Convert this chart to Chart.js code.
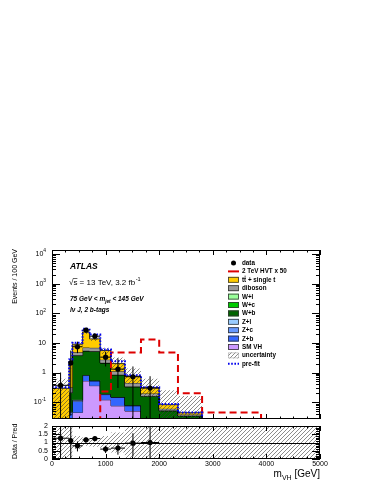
<!DOCTYPE html>
<html><head><meta charset="utf-8">
<script src="https://cdn.jsdelivr.net/npm/chart.js@4/dist/chart.umd.min.js"></script>
<style>
html,body{margin:0;padding:0;background:#fff;}
#wrap{position:relative;width:374px;height:484px;}
canvas{position:absolute;left:0;top:0;}
</style>
</head><body>
<div id="wrap"><canvas id="main" width="374" height="484"></canvas><canvas id="ratio" width="374" height="484"></canvas></div>
<script>
// ---------------- data ----------------
const binEdges = [0,320,380,570,700,900,1100,1360,1660,2000,2350,2800,3900,5000];
const smVH    = [0.002,0.01,0.045,0.52,0.36,0.12,0.075,0.05,0.01,0.003,0.001,0.0005,0.0002];
const zPlusB  = [0.002,0.03,0.06,0.27,0.16,0.06,0.07,0.025,0.006,0.002,0.001,0.0005,0.0002];
const zPlusC  = [0.0005,0.005,0.01,0.02,0.01,0.005,0.003,0.002,0.001,0.0005,0.0002,0.0001,0.0001];
const zPlusL  = [0.0005,0.002,0.005,0.01,0.008,0.003,0.002,0.001,0.0005,0.0002,0.0001,0.0001,0.0001];
const wPlusB  = [0.01,0.15,3.6,4.5,4.6,1.9,0.68,0.25,0.14,0.045,0.032,0.012,0.005];
const wPlusC  = [0.002,0.01,0.05,0.08,0.06,0.02,0.01,0.005,0.002,0.001,0.0005,0.0002,0.0001];
const wPlusL  = [0.001,0.005,0.02,0.04,0.03,0.01,0.005,0.002,0.001,0.0005,0.0002,0.0001,0.0001];
const diboson = [0.005,0.1,1.0,1.5,1.6,0.6,0.25,0.11,0.035,0.008,0.003,0.002,0.001];
const ttbar   = [0.27,1.6,4.2,16.5,6.8,2.8,0.9,0.31,0.11,0.022,0.006,0.003,0.001];

const uncHigh = [0.61,2.5,10.5,27,15.5,6.8,3.2,1.36,0.61,0.25,0.16,0.02,0.01];
const uncLow  = [0.02,1.4,7.7,20,11.5,4.2,1.2,0.41,0.15,0.026,0.012,0.004,0.002];

const hvtSignal = [0.001,0.001,0.001,0.001,0.001,0.23,4.7,4.7,13,4.7,0.2,0.045,0.001];
const preFit    = [0.32,2.75,10.1,30,19,6.0,2.4,0.81,0.32,0.087,0.045,0.02,0.012];

const dataBins    = [0,1,2,3,4,5,6,7,8];
const dataCenters = [160,350,475,635,800,1000,1230,1510,1830];
const dataValues  = [0.37,2.1,7.4,27,16.8,3.3,1.3,0.72,0.30];
const dataErrHigh = [1.0,5.5,11,32,21,5.0,3.0,1.6,0.75];
const dataErrLow  = [0.02,0.035,4.5,22,13,1.6,0.3,0.02,0.02];

const ratioValues   = [1.26,1.12,0.80,1.16,1.24,0.60,0.66,0.96,1.0];
const ratioErrHigh  = [2.5,2.5,1.06,1.32,1.36,0.80,0.96,1.56,2.5];
const ratioErrLow   = [0,0,0.46,1.0,1.12,0.36,0.26,0.16,0];
const ratioBandHigh = [2,2,1.4,1.2,1.25,1.4,1.6,2,2,2,2,2,2];
const ratioBandLow  = [0,0,0.6,0.8,0.75,0.6,0.4,0,0,0,0,0,0];

const xTickLabels = ['0','1000','2000','3000','4000','5000'];
const ratioTickLabels = ['0','0.5','1','1.5','2'];

const Y_MIN = 0.027, Y_MAX = 13600;
const FONT = '"Liberation Sans", Arial, Helvetica, sans-serif';

// ---------------- helpers ----------------
function histPoints(vals, clampMin){
  const pts = [];
  for (let i = 0; i < vals.length; i++) {
    const v = clampMin !== undefined ? Math.max(vals[i], clampMin) : vals[i];
    pts.push({x: binEdges[i], y: v});
  }
  const last = clampMin !== undefined ? Math.max(vals[vals.length-1], clampMin) : vals[vals.length-1];
  pts.push({x: binEdges[binEdges.length-1], y: last});
  return pts;
}
function makeHatch(ctx){
  const c = document.createElement('canvas'); c.width = 4; c.height = 4;
  const g = c.getContext('2d');
  g.strokeStyle = 'rgba(60,60,60,0.85)'; g.lineWidth = 0.7;
  g.beginPath();
  g.moveTo(0,4); g.lineTo(4,0);
  g.moveTo(-1,1); g.lineTo(1,-1);
  g.moveTo(3,5); g.lineTo(5,3);
  g.stroke();
  return ctx.createPattern(c, 'repeat');
}

const mainCtx = document.getElementById('main').getContext('2d');
const ratioCtx = document.getElementById('ratio').getContext('2d');
const hatchMain = makeHatch(mainCtx);
const hatchRatio = makeHatch(ratioCtx);

// stacked cumulative (bottom to top)
const stackDefs = [
  {label:'SM VH', vals: smVH,   color:'#CC99FF'},
  {label:'Z+b',   vals: zPlusB, color:'#3366FF'},
  {label:'Z+c',   vals: zPlusC, color:'#6699FF'},
  {label:'Z+l',   vals: zPlusL, color:'#99CCFF'},
  {label:'W+b',   vals: wPlusB, color:'#006600'},
  {label:'W+c',   vals: wPlusC, color:'#00CC00'},
  {label:'W+l',   vals: wPlusL, color:'#99FF99'},
  {label:'diboson', vals: diboson, color:'#999999'},
  {label:'ttbar', vals: ttbar,  color:'#FFCC00'}
];
const cum = new Array(binEdges.length-1).fill(0);
const datasets = [];
stackDefs.forEach((s, idx) => {
  const level = s.vals.map((v,i) => (cum[i] += v));
  datasets.push({
    label: s.label, data: histPoints(level), stepped: true,
    borderColor: '#000', borderWidth: 0.8, backgroundColor: s.color,
    fill: idx === 0 ? 'start' : '-1', pointRadius: 0, order: 20 - idx
  });
});
// uncertainty band
datasets.push({label:'uncLow', data: histPoints(uncLow), stepped:true, borderWidth:0, borderColor:'rgba(0,0,0,0)', fill:false, pointRadius:0, order:5});
datasets.push({label:'uncHigh', data: histPoints(uncHigh), stepped:true, borderWidth:0, borderColor:'rgba(0,0,0,0)', backgroundColor: hatchMain, fill:'-1', pointRadius:0, order:4});
// signal
datasets.push({label:'HVT', data: histPoints(hvtSignal, Y_MIN), stepped:true, borderColor:'#DD0000', borderWidth:2, borderDash:[7,4], fill:false, pointRadius:0, order:3});
// pre-fit
datasets.push({label:'prefit', data: histPoints(preFit, Y_MIN), stepped:true, borderColor:'#0000EE', borderWidth:2, borderDash:[1.6,1.6], fill:false, pointRadius:0, order:2});
// data
datasets.push({label:'data', data: dataCenters.map((c,i)=>({x:c, y:dataValues[i]})), showLine:false, pointRadius:2.6, pointBackgroundColor:'#000', pointBorderColor:'#000', pointBorderWidth:0, order:1});

// ---------------- drawing helpers ----------------
function drawSupLabel(ctx, base, sup, xRight, y, size){
  ctx.font = `${size}px ${FONT}`;
  const wb = ctx.measureText(base).width;
  ctx.font = `${size*0.7}px ${FONT}`;
  const ws = sup ? ctx.measureText(sup).width : 0;
  const x0 = xRight - wb - ws;
  ctx.textAlign = 'left'; ctx.textBaseline = 'middle'; ctx.fillStyle = '#000';
  ctx.font = `${size}px ${FONT}`; ctx.fillText(base, x0, y);
  if (sup) { ctx.font = `${size*0.7}px ${FONT}`; ctx.fillText(sup, x0 + wb, y - size*0.42); }
}
function hline(ctx,x1,x2,y){ctx.beginPath();ctx.moveTo(x1,y);ctx.lineTo(x2,y);ctx.stroke();}
function vline(ctx,x,y1,y2){ctx.beginPath();ctx.moveTo(x,y1);ctx.lineTo(x,y2);ctx.stroke();}

function drawXTicks(ctx, xs, top, bottom, major, minor){
  ctx.strokeStyle = '#000'; ctx.lineWidth = 1;
  for (let v = 0; v <= 5000; v += 250) {
    const px = Math.round(xs.getPixelForValue(v)) + 0.5;
    const len = (v % 1000 === 0) ? major : minor;
    vline(ctx, px, bottom, bottom - len);
    vline(ctx, px, top, top + len);
  }
}

const mainDecor = {
  id: 'mainDecor',
  afterDatasetsDraw(chart){
    const {ctx, chartArea:{left,right,top,bottom}, scales:{x,y}} = chart;
    ctx.save();
    ctx.beginPath(); ctx.rect(left, top, right-left, bottom-top); ctx.clip();
    ctx.strokeStyle = '#000'; ctx.lineWidth = 1;
    dataBins.forEach((b,i) => {
      const cx = x.getPixelForValue(dataCenters[i]);
      const cy = y.getPixelForValue(dataValues[i]);
      hline(ctx, x.getPixelForValue(binEdges[b]), x.getPixelForValue(binEdges[b+1]), cy);
      vline(ctx, cx, y.getPixelForValue(dataErrHigh[i]), y.getPixelForValue(Math.max(dataErrLow[i], 1e-4)));
    });
    ctx.restore();
  },
  afterDraw(chart){
    const {ctx, chartArea:{left,right,top,bottom}, scales:{x,y}} = chart;
    ctx.save();
    // frame
    ctx.strokeStyle = '#000'; ctx.lineWidth = 1;
    ctx.strokeRect(left+0.5, top+0.5, right-left-1, bottom-top-1);
    // y ticks (log)
    for (let k = -2; k <= 4; k++) {
      for (let m = 1; m <= 9; m++) {
        const v = m * Math.pow(10, k);
        if (v < Y_MIN || v > Y_MAX) continue;
        const py = Math.round(y.getPixelForValue(v)) + 0.5;
        const len = m === 1 ? 8 : 4;
        hline(ctx, left, left + len, py);
        hline(ctx, right, right - len, py);
      }
    }
    drawXTicks(ctx, x, top, bottom, 5, 2.5);
    // y labels
    for (let k = -1; k <= 4; k++) {
      const py = y.getPixelForValue(Math.pow(10,k));
      if (k === 0) drawSupLabel(ctx, '1', '', 46, py, 7);
      else if (k === 1) drawSupLabel(ctx, '10', '', 46, py, 7);
      else drawSupLabel(ctx, '10', String(k), 46, py, 7);
    }
    // y title
    ctx.save();
    ctx.translate(15, top - 1); ctx.rotate(-Math.PI/2);
    ctx.font = `7px ${FONT}`; ctx.textAlign = 'right'; ctx.textBaseline = 'middle'; ctx.fillStyle = '#000';
    ctx.fillText('Events / 100 GeV', 0, 0);
    ctx.restore();
    // ATLAS labels
    ctx.fillStyle = '#000'; ctx.textAlign = 'left'; ctx.textBaseline = 'alphabetic';
    ctx.font = `italic bold 8.5px ${FONT}`;
    ctx.fillText('ATLAS', 70, 269);
    ctx.font = `8px ${FONT}`;
    ctx.fillText('\u221As = 13 TeV, 3.2 fb', 69, 285);
    let w = ctx.measureText('\u221As = 13 TeV, 3.2 fb').width;
    const wr = ctx.measureText('\u221A').width, ws = ctx.measureText('s').width;
    ctx.lineWidth = 0.6; hline(ctx, 69 + wr - 0.5, 69 + wr + ws, 278.5);
    ctx.font = `5.6px ${FONT}`; ctx.fillText('-1', 69 + w + 0.5, 281);
    ctx.font = `italic bold 6.5px ${FONT}`;
    ctx.fillText('75 GeV < m', 70, 301);
    w = ctx.measureText('75 GeV < m').width;
    ctx.font = `italic bold 4.6px ${FONT}`; ctx.fillText('jet', 70 + w, 303);
    const wj = ctx.measureText('jet').width;
    ctx.font = `italic bold 6.5px ${FONT}`; ctx.fillText(' < 145 GeV', 70 + w + wj, 301);
    ctx.fillText('l\u03BD J, 2 b-tags', 70, 312);
    // legend
    const lx = 228, lw = 11, tx = 242, y0 = 263, dy = 8.4;
    const entries = [
      {t:'data', type:'dot'},
      {t:'2 TeV HVT x 50', type:'line', c:'#DD0000'},
      {t:'tt + single t', type:'box', c:'#FFCC00', bar:true},
      {t:'diboson', type:'box', c:'#999999'},
      {t:'W+l', type:'box', c:'#99FF99'},
      {t:'W+c', type:'box', c:'#00CC00'},
      {t:'W+b', type:'box', c:'#006600'},
      {t:'Z+l', type:'box', c:'#99CCFF'},
      {t:'Z+c', type:'box', c:'#6699FF'},
      {t:'Z+b', type:'box', c:'#3366FF'},
      {t:'SM VH', type:'box', c:'#CC99FF'},
      {t:'uncertainty', type:'hatch'},
      {t:'pre-fit', type:'dots'}
    ];
    entries.forEach((e, i) => {
      const cy = y0 + i * dy;
      ctx.save();
      if (e.type === 'dot') {
        ctx.fillStyle = '#000'; ctx.beginPath(); ctx.arc(lx + lw/2, cy, 2.5, 0, Math.PI*2); ctx.fill();
      } else if (e.type === 'line') {
        ctx.strokeStyle = e.c; ctx.lineWidth = 2; hline(ctx, lx, lx + lw, cy);
      } else if (e.type === 'box') {
        ctx.fillStyle = e.c; ctx.fillRect(lx, cy - 3, lw, 6);
        ctx.strokeStyle = '#333'; ctx.lineWidth = 0.8; ctx.strokeRect(lx + 0.5, cy - 2.5, lw - 1, 5);
      } else if (e.type === 'hatch') {
        ctx.fillStyle = hatchMain; ctx.fillRect(lx, cy - 3, lw, 6);
        ctx.strokeStyle = '#aaa'; ctx.lineWidth = 0.6; ctx.strokeRect(lx + 0.5, cy - 2.5, lw - 1, 5);
      } else if (e.type === 'dots') {
        ctx.strokeStyle = '#0000EE'; ctx.lineWidth = 2; ctx.setLineDash([1.6,1.6]); hline(ctx, lx, lx + lw, cy);
      }
      ctx.restore();
      ctx.fillStyle = '#000'; ctx.font = `bold 6.3px ${FONT}`; ctx.textAlign = 'left'; ctx.textBaseline = 'middle';
      ctx.fillText(e.t, tx, cy + 0.3);
      if (e.bar) {
        const wt = ctx.measureText('t').width;
        ctx.strokeStyle = '#000'; ctx.lineWidth = 0.6; hline(ctx, tx + wt + 0.3, tx + 2*wt - 0.2, cy - 3.6);
      }
    });
    ctx.restore();
  }
};

new Chart(mainCtx, {
  type: 'line',
  data: { datasets },
  options: {
    responsive: false, animation: false, devicePixelRatio: 1,
    layout: { padding: { left: 52, right: 54, top: 250, bottom: 65 } },
    scales: {
      x: { type: 'linear', min: 0, max: 5000, display: false },
      y: { type: 'logarithmic', min: Y_MIN, max: Y_MAX, display: false }
    },
    plugins: { legend: { display: false }, tooltip: { enabled: false }, filler: { propagate: false } }
  },
  plugins: [mainDecor]
});

// ---------------- ratio panel ----------------
const ratioDatasets = [
  {label:'bandLow', data: histPoints(ratioBandLow), stepped:true, borderWidth:0, borderColor:'rgba(0,0,0,0)', fill:false, pointRadius:0, order:5},
  {label:'bandHigh', data: histPoints(ratioBandHigh), stepped:true, borderWidth:0, borderColor:'rgba(0,0,0,0)', backgroundColor: hatchRatio, fill:'-1', pointRadius:0, order:4},
  {label:'ratio', data: dataCenters.map((c,i)=>({x:c, y:ratioValues[i]})), showLine:false, pointRadius:2.6, pointBackgroundColor:'#000', pointBorderWidth:0, order:1}
];

const ratioDecor = {
  id: 'ratioDecor',
  afterDatasetsDraw(chart){
    const {ctx, chartArea:{left,right,top,bottom}, scales:{x,y}} = chart;
    ctx.save();
    ctx.beginPath(); ctx.rect(left, top, right-left, bottom-top); ctx.clip();
    ctx.strokeStyle = '#000'; ctx.lineWidth = 1;
    hline(ctx, left, right, Math.round(y.getPixelForValue(1)) + 0.5);
    dataBins.forEach((b,i) => {
      const cx = x.getPixelForValue(dataCenters[i]);
      const cy = y.getPixelForValue(ratioValues[i]);
      hline(ctx, x.getPixelForValue(binEdges[b]), x.getPixelForValue(binEdges[b+1]), cy);
      vline(ctx, cx, y.getPixelForValue(ratioErrHigh[i]), y.getPixelForValue(ratioErrLow[i]));
    });
    ctx.restore();
  },
  afterDraw(chart){
    const {ctx, chartArea:{left,right,top,bottom}, scales:{x,y}} = chart;
    ctx.save();
    ctx.strokeStyle = '#000'; ctx.lineWidth = 1;
    ctx.strokeRect(left+0.5, top+0.5, right-left-1, bottom-top-1);
    for (let i = 0; i <= 20; i++) {
      const v = i * 0.1;
      const py = Math.round(y.getPixelForValue(v)) + 0.5;
      const len = (i % 5 === 0) ? 8 : 4;
      hline(ctx, left, left + len, py);
      hline(ctx, right, right - len, py);
    }
    drawXTicks(ctx, x, top, bottom, 5, 2.5);
    ratioTickLabels.forEach((t, i) => drawSupLabel(ctx, t, '', 48, y.getPixelForValue(i*0.5), 7));
    ctx.fillStyle = '#000'; ctx.font = `7px ${FONT}`; ctx.textAlign = 'center'; ctx.textBaseline = 'top';
    xTickLabels.forEach((t, i) => ctx.fillText(t, x.getPixelForValue(i*1000), bottom + 2));
    // x title
    ctx.textAlign = 'left'; ctx.textBaseline = 'alphabetic';
    ctx.font = `10px ${FONT}`;
    const w1 = ctx.measureText('m').width;
    ctx.font = `7px ${FONT}`;
    const w2 = ctx.measureText('VH').width;
    ctx.font = `10px ${FONT}`;
    const w3 = ctx.measureText(' [GeV]').width;
    const x0 = right - (w1 + w2 + w3);
    ctx.fillText('m', x0, 477);
    ctx.font = `7px ${FONT}`; ctx.fillText('VH', x0 + w1, 479.5);
    ctx.font = `10px ${FONT}`; ctx.fillText(' [GeV]', x0 + w1 + w2, 477);
    // y title
    ctx.save();
    ctx.translate(15, bottom); ctx.rotate(-Math.PI/2);
    ctx.font = `7px ${FONT}`; ctx.textAlign = 'left'; ctx.textBaseline = 'middle';
    ctx.fillText('Data / Pred', 0, 0);
    ctx.restore();
    ctx.restore();
  }
};

new Chart(ratioCtx, {
  type: 'line',
  data: { datasets: ratioDatasets },
  options: {
    responsive: false, animation: false, devicePixelRatio: 1,
    layout: { padding: { left: 52, right: 54, top: 426, bottom: 25 } },
    scales: {
      x: { type: 'linear', min: 0, max: 5000, display: false },
      y: { type: 'linear', min: 0, max: 2, display: false }
    },
    plugins: { legend: { display: false }, tooltip: { enabled: false }, filler: { propagate: false } }
  },
  plugins: [ratioDecor]
});
</script>
</body></html>
